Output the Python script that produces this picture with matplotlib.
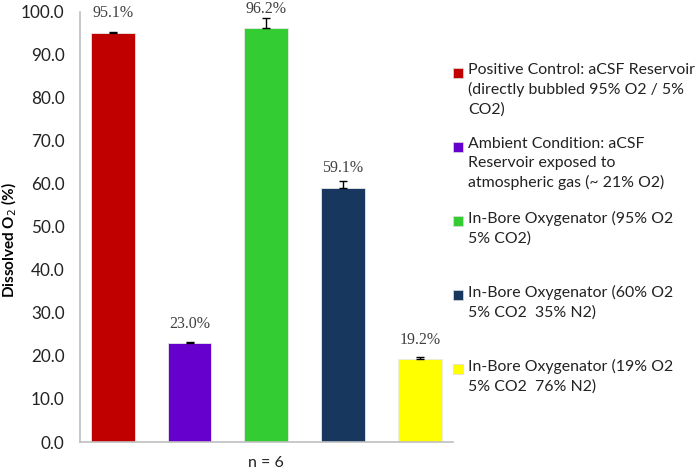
import numpy as np
import matplotlib.pyplot as plt
from matplotlib.patches import Rectangle

# data
conditions = ['Positive Control: aCSF Reservoir\n(directly bubbled 95% O2 / 5%\nCO2)',
              'Ambient Condition: aCSF\nReservoir exposed to\natmospheric gas (~ 21% O2)',
              'In-Bore Oxygenator (95% O2\n5% CO2)\n',
              'In-Bore Oxygenator (60% O2\n5% CO2  35% N2)\n',
              'In-Bore Oxygenator (19% O2\n5% CO2  76% N2)\n']
dissolved_o2 = [95.1, 23.0, 96.2, 59.1, 19.2]
errors = [0.2, 0.3, 2.2, 1.5, 0.6]
value_labels = ['95.1%', '23.0%', '96.2%', '59.1%', '19.2%']
colors = ['#C00000', '#6600CC', '#33CC33', '#17375E', '#FFFF00']
yticks = np.arange(0, 101, 10)

plt.rcParams['font.family'] = ['Lato', 'DejaVu Sans']

fig = plt.figure(figsize=(7, 4.73), dpi=100)
ax = fig.add_axes([0.114, 0.0655, 0.533, 0.91])

x = np.arange(len(dissolved_o2))
ax.bar(x, dissolved_o2, width=0.57, color=colors, edgecolor='#e8e8e8', linewidth=0.6,
       yerr=[np.zeros(len(errors)), errors], error_kw=dict(ecolor='black', elinewidth=1, capsize=3, capthick=1))

for xi, v, lab in zip(x, dissolved_o2, value_labels):
    ax.annotate(lab, (xi, v), xytext=(0, 14), textcoords='offset points',
                ha='center', va='center', fontsize=11.5, color='#404040', family='Liberation Serif')

ax.set_xlim(-0.43, 4.43)
ax.set_ylim(0, 100)
ax.set_yticks(yticks)
ax.set_yticklabels(['%.1f' % t for t in yticks], fontsize=12.3, color='#222222')
ax.set_xticks([])
ax.tick_params(axis='y', length=0, pad=11)
ax.set_xlabel('n = 6', fontsize=11.5, color='#222222', labelpad=10)
ax.set_ylabel('Dissolved O$_2$ (%)', fontsize=11, fontweight='bold')
ax.yaxis.set_label_coords(-0.163, 0.47)
for s in ['top', 'right']:
    ax.spines[s].set_visible(False)
for s in ['left', 'bottom']:
    ax.spines[s].set_color('#bfbfbf')
    ax.spines[s].set_linewidth(1.2)

# legend drawn by hand so each entry keeps its own line count
y0 = 1 - 73 / 473
step = 74 / 473
for i, (lab, c) in enumerate(zip(conditions, colors)):
    yy = y0 - i * step
    fig.patches.append(Rectangle((453 / 700, yy - 5 / 473), 10 / 700, 10 / 473,
                                 transform=fig.transFigure, facecolor=c, edgecolor='#dddddd', linewidth=0.5))
    fig.text(468 / 700, yy + 10 / 473, lab, fontsize=11.4, color='#222222', va='top', ha='left',
             linespacing=1.45)

fig.savefig('out.png', dpi=100)
